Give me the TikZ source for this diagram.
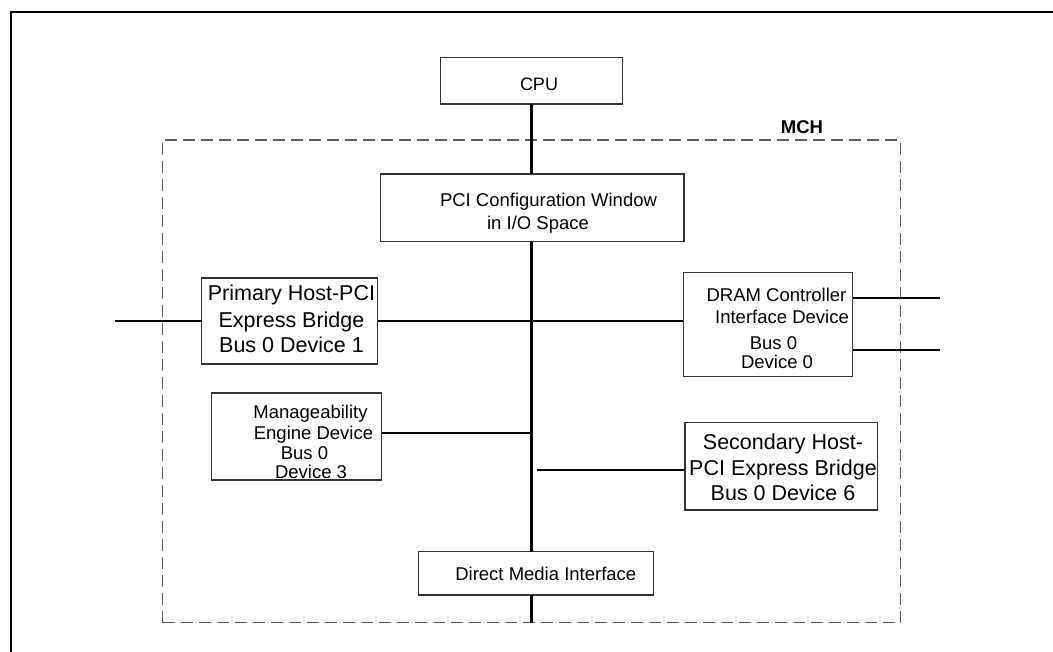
\documentclass[tikz,border=0pt]{standalone}
\usepackage{fontspec}
\setmainfont{Liberation Sans}
\begin{document}
\begin{tikzpicture}[x=1pt,y=-1pt,
  box/.style={draw=black!80,line width=1.3pt,inner sep=0pt,outer sep=0pt,fill=white},
  mchbox/.style={draw=black!65,line width=1.2pt,dash pattern=on 12pt off 6pt,inner sep=0pt,outer sep=0pt},
  bus/.style={line width=2.6pt,black},
  wire/.style={line width=2.2pt,black},
  txt/.style={anchor=base,inner sep=0pt,font=\fontsize{18.5}{22}\selectfont},
  bigtxt/.style={anchor=base,inner sep=0pt,font=\fontsize{21.5}{26}\selectfont},
  frame/.style={line width=2.6pt,black}]
\path[use as bounding box,fill=white] (0,0) rectangle (1053,652);
\clip (0,0) rectangle (1053,652);
% outer frame
\coordinate (fbl) at (11,660);
\coordinate (ftl) at (11,12);
\coordinate (ftr) at (1060,12);
\draw[frame] (fbl) -- (ftl) -- (ftr);
% MCH region
\node[mchbox,minimum width=738pt,minimum height=482.7pt] (mch) at (531.7,381.35) {};
\node[txt,font=\bfseries\fontsize{18.5}{22}\selectfont] (mchlabel) at (802,134) {MCH};
% boxes
\node[box,minimum width=182pt,minimum height=46.3pt] (cpu) at (531.7,80.85) {};
\node[box,minimum width=303.3pt,minimum height=67.7pt] (cfg) at (532.35,207.85) {};
\node[box,minimum width=176pt,minimum height=86pt] (prim) at (289.7,321) {};
\node[box,minimum width=169.4pt,minimum height=104pt] (dram) at (768,324.7) {};
\node[box,minimum width=170pt,minimum height=87pt] (mgmt) at (296.7,436.5) {};
\node[box,minimum width=192.3pt,minimum height=87.3pt] (sec) at (781.15,466.35) {};
\node[box,minimum width=234.6pt,minimum height=43.3pt] (dmi) at (536,573.35) {};
% texts
\node[txt,font=\fontsize{18}{22}\selectfont] (tcpu) at (539,90.5) {CPU};
\node[txt] (tcfg1) at (548.5,206.7) {PCI Configuration Window};
\node[txt] (tcfg2) at (538,229.3) {in I/O Space};
\node[bigtxt] (tprim1) at (291.5,300.7) {Primary Host-PCI};
\node[bigtxt] (tprim2) at (291.5,327.3) {Express Bridge};
\node[bigtxt] (tprim3) at (291.5,352.7) {Bus 0 Device 1};
\node[txt] (tdram1) at (776.5,301.7) {DRAM Controller};
\node[txt] (tdram2) at (782,324) {Interface Device};
\node[txt] (tdram3) at (773.5,350) {Bus 0};
\node[txt] (tdram4) at (777,369) {Device 0};
\node[txt] (tmg1) at (310.5,418.3) {Manageability};
\node[txt] (tmg2) at (313.5,439.3) {Engine Device};
\node[txt] (tmg3) at (304.5,459.3) {Bus 0};
\node[txt] (tmg4) at (311,478.3) {Device 3};
\node[bigtxt] (tsec1) at (783,449.3) {Secondary Host-};
\node[bigtxt] (tsec2) at (783,475.7) {PCI Express Bridge};
\node[bigtxt] (tsec3) at (783,500.7) {Bus 0 Device 6};
\node[txt] (tdmi) at (545.8,580.7) {Direct Media Interface};
% bus
\draw[bus] (cpu.south) -- (cpu.south |- cfg.north);
\draw[bus] (cpu.south |- cfg.south) -- (cpu.south |- dmi.north);
\draw[bus] (cpu.south |- dmi.south) -- (cpu.south |- mch.south);
% connectors
\coordinate (primL) at (115,321);
\draw[wire] (primL) -- (prim.west);
\draw[wire] (prim.east) -- (prim.east -| dram.west);
\coordinate (dramA) at (940,298.3);
\coordinate (dramB) at (940,350);
\draw[wire] (dramA -| dram.east) -- (dramA);
\draw[wire] (dramB -| dram.east) -- (dramB);
\coordinate (mgbus) at (531.7,433.3);
\draw[wire] (mgbus -| mgmt.east) -- (mgbus);
\coordinate (secL) at (536.7,470);
\draw[wire] (secL) -- (secL -| sec.west);
\end{tikzpicture}
\end{document}
